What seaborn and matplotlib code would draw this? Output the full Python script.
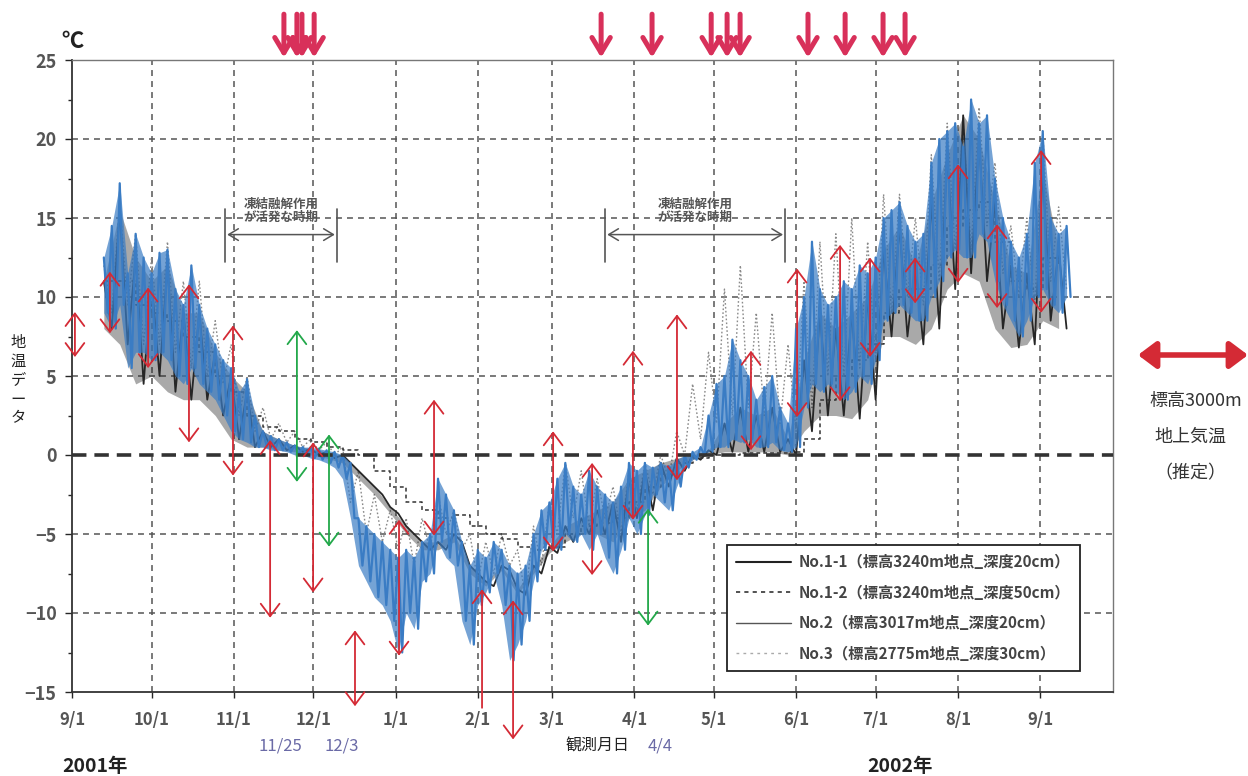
import numpy as np
import pandas as pd
import matplotlib
matplotlib.use('Agg')
import matplotlib.pyplot as plt
import seaborn as sns
from matplotlib.lines import Line2D

sns.set_style('ticks')
plt.rcParams['font.family'] = ['Noto Sans CJK JP', 'DejaVu Sans']

# ---- data (day 0 = 2001-09-01) ----
start = pd.Timestamp('2001-09-01')
month_labels = ['9/1', '10/1', '11/1', '12/1', '1/1', '2/1', '3/1',
                '4/1', '5/1', '6/1', '7/1', '8/1', '9/1']

# No.2 (3017m, 20cm): daily high / low every 3 days from day 12
no2_days = np.arange(12, 376, 3)
no2_hi = [12.5, 14.5, 17.2, 11.5, 14.0, 12.5,
          11.5, 12.8, 13.0, 10.5, 9.5, 12.0, 9.5, 8.0, 7.0, 6.0,
          5.5, 4.0, 4.8, 2.5, 1.5, 1.2, 1.0, 0.8, 0.6, 0.5, 0.5,
          0.4, 0.3, 0.2, 0.0, -0.5, -4.0, -4.5, -5.0, -5.5, -6.0,
          -6.5, -6.0, -6.5, -5.5, -5.0, -1.5, -2.5, -3.5, -5.5, -7.0,
          -6.0, -6.5, -5.5, -6.0, -7.0, -7.5, -7.0, -5.0, -3.5, -3.0,
          -1.5, -0.5, -2.0, -2.5, -1.0, -2.0, -2.5, -3.0, -2.0, -0.5,
          -1.0, -0.5, -0.8, -0.5, -0.7, -0.3, 0.0, 0.2, 0.5, 2.5,
          4.5, 5.0, 7.3, 6.0, 5.0, 3.5, 4.3, 5.0, 3.0, 2.0,
          8.0, 10.0, 13.5, 10.5, 9.5, 10.0, 11.0, 10.5, 12.0, 11.5,
          12.5, 15.0, 15.5, 16.0, 14.5, 13.5, 14.0, 18.5, 20.0, 20.5,
          21.0, 19.5, 22.5, 21.0, 21.5, 17.5, 15.0, 13.5, 12.5, 14.0, 18.5,
          20.5, 15.0, 14.0, 14.5]
no2_lo = [9.0, 8.0, 9.5, 5.5, 6.5, 6.5,
          6.0, 6.5, 6.0, 5.0, 4.5, 5.5, 4.5, 4.0, 3.5, 2.5,
          1.5, 1.0, 0.8, 0.5, 0.5, 0.3, 0.3, 0.2, 0.0, 0.0, -0.2,
          -0.3, -0.5, -0.8, -1.5, -4.0, -7.0, -8.0, -9.0, -9.5, -10.5,
          -12.5, -10.0, -11.0, -8.0, -7.5, -5.5, -6.5, -7.0, -10.5, -12.0,
          -9.5, -8.7, -7.5, -9.5, -13.0, -12.0, -10.5, -8.0, -6.0, -5.5,
          -6.0, -5.0, -5.5, -5.0, -6.0, -5.0, -6.5, -7.5, -6.0, -4.0,
          -5.0, -3.8, -2.5, -3.0, -3.5, -2.0, -0.8, -0.3, 0.0, 0.2,
          0.5, 0.5, 1.0, 0.8, 1.0, 0.5, 0.5, 0.8, 0.3, 0.2,
          0.5, 3.0, 4.5, 4.0, 4.5, 4.0, 3.5, 4.0, 5.0, 4.5,
          6.0, 8.5, 9.0, 9.5, 9.0, 8.5, 8.5, 10.0, 11.0, 12.5,
          13.0, 12.5, 12.5, 14.0, 13.5, 11.0, 9.5, 8.5, 7.5, 8.5, 10.0,
          10.5, 9.5, 9.0, 10.0]

# No.1-1, No.1-2, No.3: every 6 days from day 12
six_days = np.arange(12, 373, 6)
no11_hi = [11.0, 15.5, 12.5, 11.0, 12.0, 9.0, 9.0, 6.5, 5.0, 4.0, 1.5, 1.0,
           0.6, 0.4, 0.2, 0.0, -1.0, -2.0, -3.3, -4.5, -5.5, -5.5, -5.0, -7.0,
           -8.0, -7.0, -8.5, -7.0, -5.8, -4.5, -4.0, -3.5, -3.0, -1.5, -1.0, -0.5,
           -0.2, 0.0, 0.3, 2.0, 3.0, 2.5, 3.0, 1.0, 6.0, 9.0, 8.0, 9.0,
           10.0, 13.0, 14.5, 12.0, 16.0, 19.0, 21.5, 20.0, 16.0, 12.0, 11.5, 18.0, 13.0]
no11_lo = [8.0, 7.0, 4.5, 5.0, 4.0, 3.5, 3.5, 2.5, 1.0, 0.5, 0.5, 0.3,
           0.2, 0.0, -0.2, -0.5, -1.5, -2.5, -3.7, -5.0, -6.0, -6.0, -5.5, -7.5,
           -8.3, -7.3, -8.8, -7.5, -6.2, -5.5, -5.0, -5.0, -5.5, -4.0, -3.5, -2.0,
           -1.0, -0.3, 0.0, 0.2, 0.2, 0.2, 0.2, 0.0, 1.5, 2.5, 2.5, 2.3,
           3.5, 7.5, 7.5, 7.0, 8.0, 10.5, 11.5, 11.0, 8.0, 6.8, 7.0, 8.5, 8.0]
no12_val = [11.0, 11.0, 9.5, 9.0, 8.5, 7.5, 6.5, 5.0, 4.0, 2.5, 1.8, 1.5,
            1.0, 0.8, 0.5, 0.3, 0.0, -1.0, -2.0, -3.0, -3.5, -4.0, -3.8, -4.5,
            -5.0, -5.3, -5.8, -6.0, -5.8, -5.0, -4.5, -4.3, -4.0, -3.0, -2.0, -1.2,
            -0.5, -0.2, 0.0, 0.0, 0.1, 0.1, 0.1, 0.2, 1.0, 3.5, 5.0, 6.0,
            7.0, 9.0, 10.5, 10.5, 12.0, 14.5, 15.5, 16.0, 13.5, 11.0, 10.5, 12.5, 12.0]
no3_hi = [12.0, 16.0, 14.0, 12.5, 13.5, 11.0, 11.0, 8.5, 7.0, 5.0, 3.0, 2.0,
          1.5, 1.0, 0.8, 0.5, -1.0, -2.5, -3.5, -4.0, -4.0, -2.5, -3.5, -5.0,
          -5.5, -5.0, -6.0, -4.5, -3.0, -0.5, -1.0, -1.5, -2.0, -1.0, -0.5, 0.0,
          1.5, 4.5, 6.5, 10.5, 12.0, 9.0, 9.0, 7.0, 11.0, 13.5, 14.0, 15.0,
          13.5, 16.5, 16.5, 15.0, 19.0, 21.0, 21.0, 22.0, 18.5, 14.5, 15.0, 20.5, 15.7]
no3_lo = [9.0, 9.5, 7.0, 7.0, 6.5, 5.5, 5.0, 4.5, 2.5, 1.5, 1.0, 0.8,
          0.5, 0.3, 0.0, -3.0, -5.0, -5.5, -6.0, -7.0, -6.0, -5.0, -6.0, -8.0,
          -7.5, -7.0, -9.0, -7.0, -5.0, -4.0, -4.5, -4.0, -5.0, -3.5, -2.5, -1.5,
          0.0, 1.0, 2.0, 2.5, 3.0, 2.5, 2.0, 1.5, 3.0, 5.0, 5.0, 5.5,
          6.0, 9.0, 10.0, 9.5, 11.0, 13.0, 13.0, 14.5, 11.5, 10.0, 9.5, 11.0, 10.5]

# range arrows: day, end1, end2, colour, style
arrow_days = [1.1, 14.3, 28.7, 44.1, 60.7, 84.8, 74.7, 90.9, 96.9, 106.7, 123.3,
              136.5, 154.6, 166.3, 181.4, 196.1, 211.5, 217.2, 228.1, 256.0,
              273.4, 289.6, 300.9, 317.9, 334.1, 348.8, 365.4]
arrow_top = [9.05, 11.6, 10.6, 10.8, 8.2, 7.9, 0.95, 0.8, 1.3, -11.1, -4.1,
             3.5, -8.5, -9.2, 1.5, -0.5, 6.6, -3.4, 8.9, 6.6,
             11.8, 13.3, 12.5, 12.5, 18.4, 14.6, 19.3]
arrow_bot = [6.2, 7.7, 5.5, 0.8, -1.3, -1.7, -10.3, -8.7, -5.8, -15.9, -12.7,
             -5.1, -16.0, -18.0, -6.1, -7.6, -4.1, -10.8, -1.6, 0.3,
             2.4, 3.4, 6.2, 9.6, 10.9, 9.3, 9.0]
arrow_col = ['r', 'r', 'r', 'r', 'r', 'g', 'r', 'r', 'g', 'r', 'r',
             'r', 'r', 'r', 'r', 'r', 'r', 'g', 'r', 'r',
             'r', 'r', 'r', 'r', 'r', 'r', 'r']
arrow_up_only = [12]

# event arrows above the plot (days)
event_days = [79.9, 84.8, 86.7, 91.3, 199.5, 218.7, 241.0, 247.0, 251.9,
              277.5, 291.5, 305.8, 314.1]

legend_labels = ['No.1-1（標高3240m地点_深度20cm）',
                 'No.1-2（標高3240m地点_深度50cm）',
                 'No.2（標高3017m地点_深度20cm）',
                 'No.3（標高2775m地点_深度30cm）']

BLUE = '#3a7cc4'
RED = '#d42a35'
GREEN = '#22a84a'
EVENT = '#d8305a'


def zigzag(days, hi, lo, half):
    x = np.column_stack([days, days + half]).ravel()
    y = np.column_stack([hi, lo]).ravel()
    return x, y


fig = plt.figure(figsize=(12.48, 7.76), dpi=100)
ax = fig.add_axes([72 / 1248, 84 / 776, 1041 / 1248, 632 / 776])

month_days = (pd.date_range('2001-09-01', '2002-09-01', freq='MS') - start).days.values

# grid
for d in month_days[1:]:
    ax.axvline(d, color='#555', lw=1.1, ls=(0, (3.9, 3.3)), zorder=1)
for v in [20, 15, 10, 5, -5, -10]:
    ax.axhline(v, color='#555', lw=1.1, ls=(0, (3.9, 3.3)), zorder=1)

# series
x3, y3 = zigzag(six_days, np.array(no3_hi), np.array(no3_lo), 3)
sns.lineplot(x=x3, y=y3, ax=ax, color='#8a8a8a', lw=1.0, ls=(0, (1.2, 1.6)),
             estimator=None, sort=False, zorder=2)
ax.fill_between(six_days, no11_lo, no11_hi, color='#2a2a2a', alpha=0.4,
                lw=0, zorder=3)
x11, y11 = zigzag(six_days, np.array(no11_hi), np.array(no11_lo), 3)
sns.lineplot(x=x11, y=y11, ax=ax, color='#262626', lw=1.3,
             estimator=None, sort=False, zorder=3)
ax.step(six_days, no12_val, where='post', color='#333', lw=1.1,
        ls=(0, (2.5, 2)), zorder=3)
ax.fill_between(no2_days, no2_lo, no2_hi, color=BLUE, alpha=0.7,
                lw=0, zorder=4)
x2, y2 = zigzag(no2_days, np.array(no2_hi), np.array(no2_lo), 1.5)
sns.lineplot(x=x2, y=y2, ax=ax, color=BLUE, lw=1.6,
             estimator=None, sort=False, zorder=4)

# zero line
ax.axhline(0, color='#333', lw=2.6, ls=(0, (4, 2.2)), zorder=5)

# range arrows
for i, (d, t, b, c) in enumerate(zip(arrow_days, arrow_top, arrow_bot, arrow_col)):
    col = RED if c == 'r' else GREEN
    style = '->' if i in arrow_up_only else '<->'
    ax.annotate('', xy=(d, t), xytext=(d, b), annotation_clip=False,
                arrowprops=dict(arrowstyle=style + ',head_length=0.6,head_width=0.45',
                                color=col, lw=1.3, shrinkA=0, shrinkB=0,
                                mutation_scale=15), zorder=6)

# event arrows on top
for d in event_days:
    ax.annotate('', xy=(d, 25.15), xytext=(d, 27.9), annotation_clip=False,
                arrowprops=dict(arrowstyle='->,head_length=0.5,head_width=0.3',
                                color=EVENT, lw=3.6, shrinkA=0, shrinkB=0,
                                mutation_scale=22))

# freeze-thaw period brackets
for d0, d1 in [(57.7, 99.9), (201.0, 268.9)]:
    ax.plot([d0, d0], [12.2, 15.6], color='#555', lw=1.2, zorder=6)
    ax.plot([d1, d1], [12.2, 15.6], color='#555', lw=1.2, zorder=6)
    ax.annotate('', xy=(d0 + 0.8, 13.95), xytext=(d1 - 0.8, 13.95),
                arrowprops=dict(arrowstyle='<->,head_length=0.5,head_width=0.3',
                                color='#555', lw=1.1, shrinkA=0, shrinkB=0,
                                mutation_scale=14))
    ax.text((d0 + d1) / 2, 15.45, '凍結融解作用\nが活発な時期', ha='center',
            va='center', fontsize=9, color='#555', fontweight='bold',
            linespacing=1.05, zorder=7)

ax.set_xlim(0, 392.5)
ax.set_ylim(-15, 25)
ax.set_xticks(month_days)
ax.set_xticklabels(month_labels)
ax.set_yticks(range(-15, 26, 5))
ax.set_yticks(np.arange(-12.5, 25, 5), minor=True)
ax.tick_params(axis='x', direction='out', length=4, width=1, pad=10,
               labelsize=12, labelcolor='#555')
ax.tick_params(axis='y', which='major', direction='out', length=5, width=1,
               pad=6, labelsize=13, labelcolor='#555')
ax.tick_params(axis='y', which='minor', direction='out', length=3, width=1)
for lab in ax.get_xticklabels() + ax.get_yticklabels():
    lab.set_fontweight('bold')
for s in ['left', 'bottom']:
    ax.spines[s].set_color('#333')
    ax.spines[s].set_linewidth(1.3)
for s in ['top', 'right']:
    ax.spines[s].set_color('#777')
    ax.spines[s].set_linewidth(1.0)
ax.set_xlabel('')
ax.set_ylabel('')

handles = [Line2D([], [], color='#222', lw=1.5),
           Line2D([], [], color='#333', lw=1.2, ls=(0, (2.5, 2.5))),
           Line2D([], [], color='#555', lw=1.0),
           Line2D([], [], color='#aaa', lw=1.0, ls=(0, (2, 3)))]
leg = ax.legend(handles, legend_labels, loc='upper left',
                bbox_to_anchor=((727 - 72) / 1041, (692 - 545) / 632),
                borderaxespad=0, frameon=True, fancybox=False, framealpha=1,
                edgecolor='#222', handlelength=3.6, labelspacing=0.95,
                borderpad=0.6, handletextpad=0.5, prop={'size': 11, 'weight': 'bold'})
leg.get_frame().set_linewidth(1.3)
for t in leg.get_texts():
    t.set_color('#444')
leg.set_zorder(10)


def ftext(x, y, s, **kw):
    fig.text(x / 1248, 1 - y / 776, s, ha='center', va='center', **kw)


ftext(72, 41, '℃', fontsize=16, fontweight='bold', color='#222')
ftext(18, 380, '地\n温\nデ\nー\nタ', fontsize=11, color='#222', linespacing=1.15)
ftext(280, 746, '11/25', fontsize=12, color='#6a6aa6')
ftext(342, 746, '12/3', fontsize=12, color='#6a6aa6')
ftext(598, 746, '観測月日', fontsize=11.5, color='#222')
ftext(660, 746, '4/4', fontsize=12, color='#6a6aa6')
ftext(95, 766, '2001年', fontsize=14, fontweight='bold', color='#222')
ftext(900, 766, '2002年', fontsize=14, fontweight='bold', color='#222')
ftext(1196, 401, '標高3000m', fontsize=13, color='#333')
ftext(1190, 437, '地上気温', fontsize=13, color='#333')
ftext(1190, 473, '（推定）', fontsize=13, color='#333')

ax.annotate('', xy=(1248, 776 - 355), xytext=(1138, 776 - 355),
            xycoords='figure pixels', textcoords='figure pixels',
            arrowprops=dict(arrowstyle='<|-|>,head_length=0.6,head_width=0.45',
                            color=RED, lw=4, shrinkA=0, shrinkB=0,
                            mutation_scale=18))

fig.savefig('out.png', dpi=100)
